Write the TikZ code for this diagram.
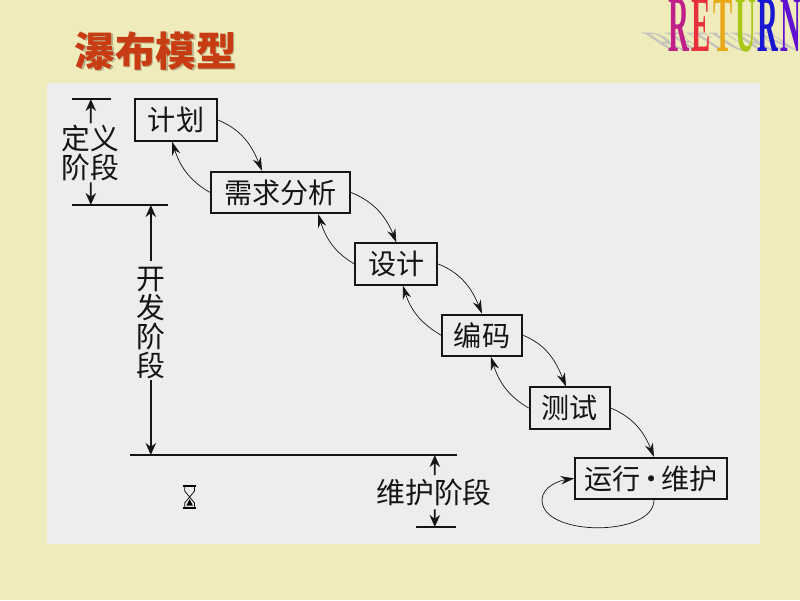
\documentclass[tikz,border=0pt]{standalone}
\usepackage{fontspec}
\setmainfont{Noto Sans CJK SC}
\newfontfamily\retfont{Liberation Serif}
\usetikzlibrary{arrows.meta, positioning, calc}
\definecolor{pageBg}{HTML}{EFEBBA}
\definecolor{panelBg}{HTML}{EDEDED}
\definecolor{inkC}{HTML}{151515}
\definecolor{titleC}{HTML}{C83C14}
\definecolor{titleS}{HTML}{B8B48C}
\definecolor{retShadow}{HTML}{C4C4BC}
\definecolor{retA}{HTML}{C0208A}
\definecolor{retB}{HTML}{E8303A}
\definecolor{retC}{HTML}{E8A818}
\definecolor{retD}{HTML}{A8C818}
\definecolor{retE}{HTML}{1818D0}
\definecolor{retF}{HTML}{6010D0}
\tikzset{
  >={Stealth[length=3.4mm, width=2.1mm]},
  stage/.style={rectangle, draw=inkC, line width=1.3pt, fill=panelBg,
    minimum height=1.03cm, inner sep=0pt, text=inkC,
    font=\fontsize{20}{21}\selectfont},
  span/.style={align=center, inner sep=0pt, text=inkC,
    font=\fontsize{20.5}{20.5}\selectfont},
  flow/.style={->, line width=0.5pt, draw=inkC},
  rule/.style={line width=0.8pt, draw=inkC},
  dim/.style={-{Stealth[length=3mm, width=2.6mm]}, line width=1.3pt, draw=inkC},
  retletter/.style={anchor=base west, inner sep=0pt, transform shape,
    font=\retfont\bfseries\fontsize{57}{57}\selectfont},
}

\begin{document}
\begin{tikzpicture}
  \useasboundingbox (0,0) rectangle (20,15);
  \fill[pageBg] (0,0) rectangle (20,15);
  \fill[panelBg] (1.175,1.4) rectangle (19,12.925);

  % ---- Title and return button --------------------------------------------
  \node[titleS, font=\fontsize{28.8}{30}\selectfont\bfseries] (titleback) at (3.93,13.69) {瀑布模型};
  \node[titleC, font=\fontsize{28.8}{30}\selectfont\bfseries] (title) at (3.89,13.73) {瀑布模型};

  \foreach \x/\l/\c/\n in {16.7/R/retA/a, 17.275/E/retB/b, 17.825/T/retC/c,
                           18.375/U/retD/d, 18.925/R/retE/e, 19.5/N/retF/f} {
    \node[retletter, retShadow, xslant=-1.5, xscale=.36, yscale=.35] (shade\n) at (\x,13.7) {\l};
  }
  \foreach \x/\l/\c/\n in {16.7/R/retA/a, 17.275/E/retB/b, 17.825/T/retC/c,
                           18.375/U/retD/d, 18.925/R/retE/e, 19.5/N/retF/f} {
    \node[retletter, \c, xscale=.36] (ret\n) at (\x,13.7) {\l};
  }

  % ---- Stages -------------------------------------------------------------
  \node[stage, minimum width=2.05cm] (plan)     at (4.40,12.00) {计划};
  \node[stage, minimum width=3.48cm] (analysis) at (7.01,10.19) {需求分析};
  \node[stage, minimum width=2.05cm] (design)   at (9.91,8.40)  {设计};
  \node[stage, minimum width=2.00cm] (code)     at (12.05,6.62) {编码};
  \node[stage, minimum width=2.00cm] (test)     at (14.24,4.80) {测试};
  \node[stage, minimum width=3.80cm] (run)      at (16.28,3.04) {运行\kern-2.5pt·\kern-2.5pt维护};

  \draw[flow] (plan.east) to[out=-22, in=112] ([xshift=-0.46cm]analysis.north);
  \draw[flow] (analysis.east) to[out=-22, in=112] (design.north);
  \draw[flow] (design.east) to[out=-22, in=112] (code.north);
  \draw[flow] (code.east) to[out=-22, in=112] ([xshift=-0.09cm]test.north);
  \draw[flow] (test.east) to[out=-22, in=112] ([xshift=0.07cm]run.north);

  \draw[flow] (analysis.west) to[out=150, in=-72] ([xshift=-0.1cm]plan.south);
  \draw[flow] (design.west) to[out=150, in=-72] ([xshift=0.94cm]analysis.south);
  \draw[flow] (code.west) to[out=150, in=-72] ([xshift=0.16cm]design.south);
  \draw[flow] (test.west) to[out=150, in=-72] ([xshift=0.22cm]code.south);

  \coordinate (loopleft) at (13.55,2.5);
  \draw[flow] ([xshift=0.07cm]run.south) to[out=-90, in=-90, looseness=0.85] (loopleft)
    to[out=90, in=188, looseness=0.9] (run.west);

  % ---- Phase spans --------------------------------------------------------
  \coordinate (defTop) at (2.27,12.525);
  \coordinate (defEnd) at (2.27,9.875);
  \coordinate (devEnd) at (3.77,3.625);
  \coordinate (devTop) at (3.77,9.875);
  \coordinate (mntTop) at (10.87,3.625);
  \coordinate (mntEnd) at (10.87,1.825);

  \draw[rule] (1.8,12.525) -- (defTop) -- (2.775,12.525);
  \draw[rule] (1.8,9.875) -- (defEnd) -- (devTop) -- (4.2,9.875);
  \draw[rule] (3.25,3.625) -- (devEnd) -- (mntTop) -- (11.425,3.625);
  \draw[rule] (10.4,1.825) -- (mntEnd) -- (11.4,1.825);

  \node[span] (defspan) at (2.25,11.18) {定义\\阶段};
  \node[span] (devspan) at (3.77,6.925) {开\\发\\阶\\段};
  \node[span] (mntspan) at (10.85,2.675) {维护阶段};

  \draw[dim] ([xshift=0.02cm,yshift=1pt]defspan.north) -- (defTop);
  \draw[dim] ([xshift=0.02cm,yshift=-1pt]defspan.south) -- (defEnd);
  \draw[dim] ([yshift=4pt]devspan.north) -- (devTop);
  \draw[dim] ([yshift=-1pt]devspan.south) -- (devEnd);
  \draw[dim] ([xshift=0.02cm,yshift=3pt]mntspan.north) -- (mntTop);
  \draw[dim] ([xshift=0.02cm,yshift=-2pt]mntspan.south) -- (mntEnd);

  % ---- Hourglass ----------------------------------------------------------
  \draw[black, line width=0.9pt] (4.58,2.85) -- (4.9,2.85) (4.58,2.3) -- (4.9,2.3);
  \draw[black, line width=0.5pt] (4.62,2.85) -- (4.62,2.72) -- (4.86,2.43) -- (4.86,2.3)
    (4.86,2.85) -- (4.86,2.72) -- (4.62,2.43) -- (4.62,2.3);
  \fill[black] (4.74,2.52) -- (4.66,2.36) -- (4.82,2.36) -- cycle;
\end{tikzpicture}
\end{document}
